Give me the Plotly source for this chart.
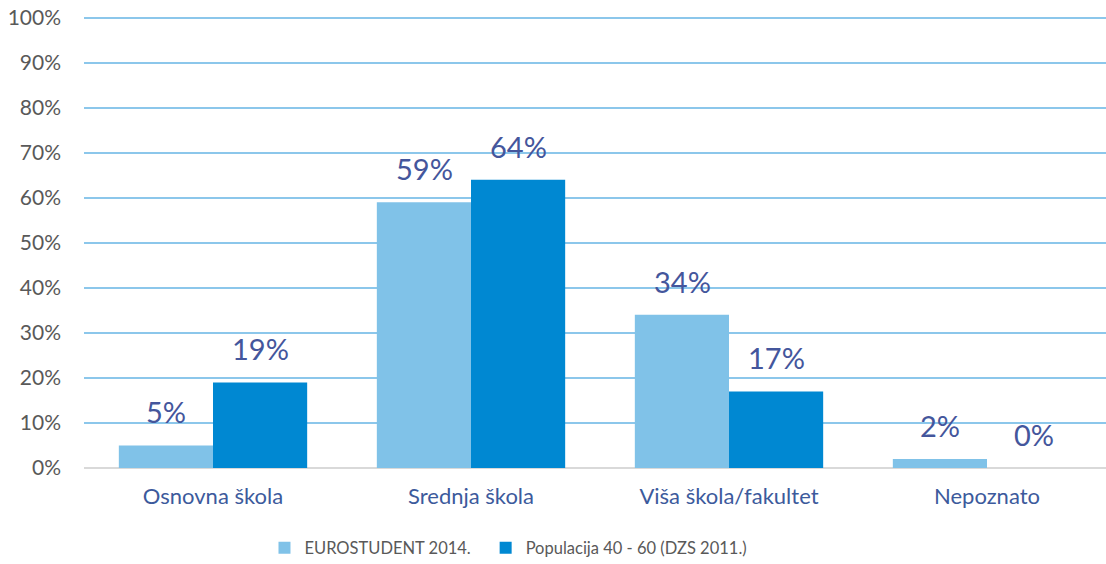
import plotly.graph_objects as go

categories = ["Osnovna škola", "Srednja škola", "Viša škola/fakultet", "Nepoznato"]
series_names = ["EUROSTUDENT 2014.", "Populacija 40 - 60 (DZS 2011.)"]
eurostudent = [5, 59, 34, 2]
populacija = [19, 64, 17, 0]
tick_vals = [0, 10, 20, 30, 40, 50, 60, 70, 80, 90, 100]
tick_text = [f"{v}%" for v in tick_vals]

colors = ["#80c2e8", "#0088d2"]
label_color = "#44569c"
font_family = "Lato, Open Sans, sans-serif"

fig = go.Figure()
for name, vals, col, leg in zip(series_names, [eurostudent, populacija], colors, ["legend", "legend2"]):
    fig.add_trace(go.Bar(
        x=categories, y=vals, name=name, legend=leg,
        marker=dict(color=col, line=dict(width=0)),
    ))

bar_px = 94
for vals, shift in [(eurostudent, -bar_px / 2), (populacija, bar_px / 2)]:
    for c, v in zip(categories, vals):
        fig.add_annotation(
            x=c, y=v, xref="x", yref="y", text=f"{v}%", showarrow=False,
            xshift=shift, yshift=14, yanchor="bottom",
            font=dict(family=font_family, size=29, color=label_color),
        )

leg_common = dict(orientation="h", xanchor="left", y=-0.1758, yanchor="middle",
                  font=dict(size=16.5, color="#595959"), itemwidth=30,
                  bgcolor="rgba(0,0,0,0)")
fig.update_layout(
    width=1106, height=564,
    margin=dict(l=84, r=0, t=13, b=96, autoexpand=False),
    paper_bgcolor="white", plot_bgcolor="white",
    barmode="group", bargap=0.27, bargroupgap=0,
    font=dict(family=font_family, color="#595959"),
    showlegend=True,
    legend=dict(x=0.1766, **leg_common),
    legend2=dict(x=0.393, **leg_common),
)
fig.update_xaxes(
    range=[-0.5, 3.5 - 10 / 258], showgrid=False, showline=False, ticks="",
    tickfont=dict(size=22, color="#3c5a9c", family=font_family),
    ticklabelstandoff=13, automargin=False,
)
fig.update_yaxes(
    range=[0, 101], tickvals=tick_vals, ticktext=tick_text,
    showgrid=True, gridcolor="#8cc7eb", gridwidth=1.5,
    zeroline=True, zerolinecolor="#d9d9d9", zerolinewidth=2,
    showline=False, ticks="", ticklabelstandoff=22, ticklabeloverflow="allow",
    tickfont=dict(size=21, color="#595959", family=font_family), automargin=False,
)

fig.write_html("out.html", config={"displayModeBar": False},
               post_script="document.body.style.margin='0px';")
